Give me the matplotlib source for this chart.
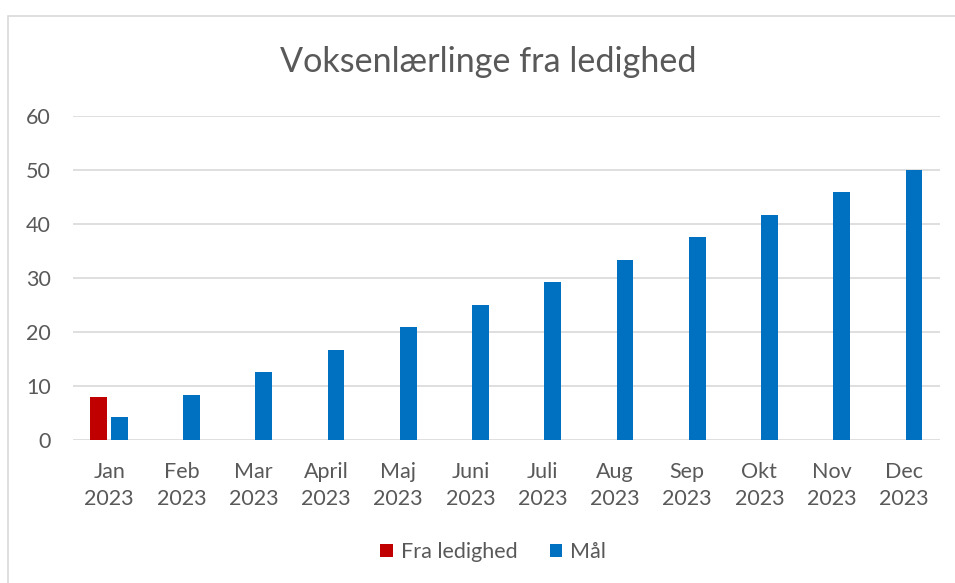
import numpy as np
import matplotlib.pyplot as plt
from matplotlib.patches import Rectangle

plt.rcParams['font.family'] = ['Lato', 'DejaVu Sans']

months = ['Jan', 'Feb', 'Mar', 'April', 'Maj', 'Juni', 'Juli', 'Aug', 'Sep', 'Okt', 'Nov', 'Dec']
year = '2023'
fra_ledighed = [8, np.nan, np.nan, np.nan, np.nan, np.nan, np.nan, np.nan, np.nan, np.nan, np.nan, np.nan]
maal = [4.17, 8.33, 12.5, 16.67, 20.83, 25.0, 29.17, 33.33, 37.5, 41.67, 45.83, 50.0]

RED = '#C00000'
BLUE = '#0070C0'
TEXT = '#595959'
GRID = '#D9D9D9'

fig = plt.figure(figsize=(9.55, 5.83), dpi=100)
# chart frame (left and top edges visible)
fig.add_artist(Rectangle((8 / 955, -0.05), 1.2, (583 - 16) / 583 + 0.05,
                         transform=fig.transFigure, fill=False,
                         edgecolor=GRID, linewidth=1.2))

ax = fig.add_axes([73 / 955, 143 / 583, 867 / 955, 324.5 / 583])

x = np.arange(len(months))
w = 0.235
ax.bar(x - 0.15, fra_ledighed, w, color=RED, label='Fra ledighed', zorder=3)
ax.bar(x + 0.14, maal, w, color=BLUE, label='Mål', zorder=3)

ax.set_xlim(-0.5, len(months) - 0.5)
ax.set_ylim(0, 60)
ax.set_yticks(range(0, 61, 10))
ax.set_xticks(x)
ax.set_xticklabels([f'{m}\n{year}' for m in months], linespacing=1.45)
ax.tick_params(axis='both', length=0, labelsize=15.5, colors=TEXT)
ax.tick_params(axis='x', pad=16)
ax.tick_params(axis='y', pad=16)
ax.grid(axis='y', color=GRID, linewidth=1.2, zorder=0)
for s in ax.spines.values():
    s.set_visible(False)

fig.text(488 / 955, 1 - 62 / 583, 'Voksenlærlinge fra ledighed', ha='center', va='center',
         fontsize=24.6, color=TEXT)

fig.legend(loc='center', bbox_to_anchor=(493 / 955, 1 - 552 / 583), ncol=2, frameon=False,
           fontsize=15.5, labelcolor=TEXT, handlelength=0.6, handleheight=0.6,
           handletextpad=0.35, columnspacing=1.5)

fig.savefig('out.png', dpi=100)
